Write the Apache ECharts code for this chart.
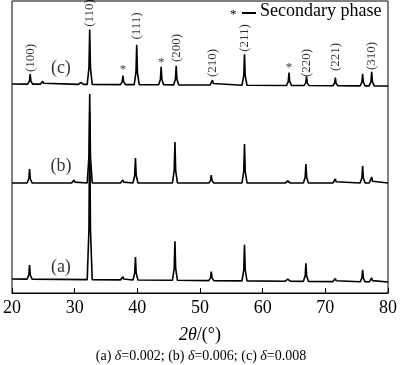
<!DOCTYPE html>
<html><head><meta charset="utf-8">
<script src="https://cdn.jsdelivr.net/npm/echarts@6/dist/echarts.min.js"></script>
<style>html,body{margin:0;padding:0;background:#fff}#c{width:400px;height:365px}</style>
</head><body><div id="c"></div>
<script>
// Peak tables: [2theta, peak height above baseline]
const peaksC = [[22.9,10],[24.9,3],[31.0,2],[32.4,55],[37.7,9],[39.9,40],[43.8,18],[46.2,19],[52.0,5],[57.1,31],[64.2,13],[67.0,9],[71.6,8],[75.95,12],[77.4,14]];
const peaksB = [[22.8,14],[29.9,3],[32.4,89],[37.7,3],[39.7,25],[46.0,41],[51.8,8],[57.1,39],[64.0,2],[66.9,19],[71.6,4],[75.95,17],[77.4,6]];
const peaksA = [[22.8,14],[32.4,168],[37.7,3],[39.7,23],[46.0,39],[51.8,9],[57.1,36],[64.0,2],[66.9,18],[71.6,3],[75.95,12],[77.4,4]];
// baselines [start, end]
const baseC = [209, 207];
const baseB = [110, 110];
const baseA = [14, 11];
// hkl labels
const hklPos = [22.9, 32.4, 39.9, 46.2, 52.0, 57.1, 67.0, 71.6, 77.4];
const hklText = ['(100)','(110)','(111)','(200)','(210)','(211)','(220)','(221)','(310)'];
const hklY = [235, 280, 267, 245, 230, 255, 230, 236, 237];
const starPos = [37.7, 43.8, 64.2];
const starY = [223, 230, 225];
const sampleText = ['(c)','(b)','(a)'];
const samplePos = [27.8, 27.8, 27.8];
const sampleY = [225, 127, 26];
const xTicks = [20, 30, 40, 50, 60, 70, 80];

function build(peaks, base) {
  const pts = [[20, base[0]]];
  const lerp = x => base[0] + (base[1]-base[0])*(x-20)/60;
  peaks.forEach(([p,h]) => {
    const b = lerp(p);
    pts.push([p-0.4,b],[p-0.12,b+0.3*h],[p,b+h],[p+0.12,b+0.3*h],[p+0.4,b]);
  });
  pts.push([80, base[1]]);
  return pts;
}
const font = '"Liberation Serif", "Times New Roman", serif';
const chart = echarts.init(document.getElementById('c'));
const lineStyle = {color:'#000', width:1.6};
chart.setOption({
  animation:false,
  grid:{left:8, right:9, top:1, bottom:72, show:true, borderColor:'#000', borderWidth:1},
  xAxis:{type:'value', min:20, max:80, interval:10,
    axisLine:{lineStyle:{color:'#000'}}, axisTick:{inside:true, length:5, lineStyle:{color:'#000'}},
    splitLine:{show:false},
    axisLabel:{color:'#000', fontFamily:font, fontSize:18, margin:6, formatter: v => xTicks.includes(v) ? String(v) : ''},
    name:'{i|2θ}/(°)', nameLocation:'middle', nameGap:33,
    nameTextStyle:{color:'#000', fontFamily:font, fontSize:18, rich:{i:{fontStyle:'italic', fontFamily:font, fontSize:18, color:'#000'}}}},
  yAxis:{type:'value', min:0, max:292, show:false},
  title:{text:'(a) {i|δ}=0.002; (b) {i|δ}=0.006; (c) {i|δ}=0.008', left:196, textAlign:'center', top:344,
    textStyle:{color:'#000', fontFamily:font, fontSize:14, fontWeight:'normal', rich:{i:{fontStyle:'italic', fontFamily:font, fontSize:14, color:'#000'}}}},
  series:[
    {type:'line', data:build(peaksC, baseC), showSymbol:false, lineStyle, silent:true},
    {type:'line', data:build(peaksB, baseB), showSymbol:false, lineStyle, silent:true},
    {type:'line', data:build(peaksA, baseA), showSymbol:false, lineStyle, silent:true},
    {type:'scatter', symbolSize:0, silent:true,
      data:hklPos.map((p,i)=>({value:[p,hklY[i]], label:{formatter:hklText[i]}})),
      label:{show:true, position:'inside', rotate:90, color:'#000', fontFamily:font, fontSize:13}},
    {type:'scatter', symbolSize:0, silent:true,
      data:starPos.map((p,i)=>[p,starY[i]]),
      label:{show:true, position:'inside', formatter:'*', color:'#000', fontFamily:font, fontSize:13}},
    {type:'scatter', symbolSize:0, silent:true,
      data:samplePos.map((p,i)=>({value:[p,sampleY[i]], label:{formatter:sampleText[i]}})),
      label:{show:true, position:'inside', color:'#000', fontFamily:font, fontSize:18}}
  ],
  graphic:[
    {type:'text', left:230, top:8, style:{text:'*', font:'13px '+font, fill:'#000'}},
    {type:'line', shape:{x1:242, y1:13, x2:256, y2:13}, style:{stroke:'#000', lineWidth:2}},
    {type:'text', left:260, top:2, style:{text:'Secondary phase', font:'18px '+font, fill:'#000'}}
  ]
});
</script></body></html>
